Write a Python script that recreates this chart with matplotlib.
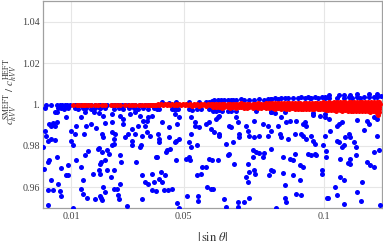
import matplotlib
matplotlib.use("Agg")
import matplotlib.pyplot as plt
from matplotlib.ticker import FixedLocator, FixedFormatter

# ---------------- data ----------------
x_ticks = [0.01, 0.05, 0.1]
x_tick_labels = ["0.01", "0.05", "0.1"]
y_ticks = [0.96, 0.98, 1.0, 1.02, 1.04]
y_tick_labels = ["0.96", "0.98", "1.", "1.02", "1.04"]
x_range = [0.0, 0.1205]
y_range = [0.95, 1.05]

blue_points = [
    # x < 0.021
    (0.0012, 0.9998), (0.0027, 0.9999), (0.0048, 0.9998), (0.0059, 1.0000), (0.0068, 0.9998),
    (0.0077, 0.9999), (0.0087, 0.9998), (0.0095, 1.0000), (0.0113, 0.9998), (0.0122, 0.9999),
    (0.0134, 0.9998), (0.0148, 0.9999), (0.0160, 0.9998), (0.0172, 1.0000), (0.0184, 0.9998),
    (0.0198, 0.9999),
    (0.0006, 0.9982), (0.0053, 0.9982), (0.0065, 0.9984), (0.0075, 0.9980), (0.0089, 0.9982),
    (0.0113, 0.9984), (0.0124, 0.9980), (0.0142, 0.9982), (0.0154, 0.9984), (0.0170, 0.9980),
    (0.0184, 0.9982), (0.0202, 0.9984),
    (0.0042, 0.9962), (0.0051, 0.9966), (0.0148, 0.9962), (0.0182, 0.9966), (0.0198, 0.9960),
    (0.0080, 0.9938), (0.0134, 0.9938), (0.0048, 0.9917),
    (0.0020, 0.9904), (0.0036, 0.9910), (0.0042, 0.9898), (0.0030, 0.9898), (0.0119, 0.9898),
    (0.0154, 0.9898), (0.0172, 0.9906), (0.0190, 0.9885), (0.0006, 0.9874), (0.0012, 0.9850),
    (0.0099, 0.9874), (0.0113, 0.9858), (0.0146, 0.9858), (0.0101, 0.9826), (0.0107, 0.9802),
    (0.0018, 0.9826), (0.0030, 0.9834), (0.0044, 0.9830), (0.0000, 0.9794), (0.0198, 0.9789),
    (0.0160, 0.9773), (0.0151, 0.9757), (0.0020, 0.9730), (0.0016, 0.9722), (0.0048, 0.9746),
    (0.0089, 0.9709), (0.0119, 0.9730), (0.0134, 0.9698), (0.0205, 0.9722), (0.0065, 0.9693),
    (0.0198, 0.9682), (0.0004, 0.9690), (0.0083, 0.9658), (0.0089, 0.9658), (0.0178, 0.9666),
    (0.0142, 0.9634), (0.0027, 0.9634), (0.0053, 0.9618), (0.0016, 0.9586), (0.0036, 0.9586),
    (0.0059, 0.9581), (0.0136, 0.9594), (0.0142, 0.9570), (0.0158, 0.9549), (0.0186, 0.9542),
    (0.0205, 0.9549), (0.0063, 0.9558), (0.0018, 0.9514), (0.0107, 0.9498),
    # 0.020 - 0.041
    (0.0203, 0.9997), (0.0215, 0.9998), (0.0227, 0.9997), (0.0245, 0.9998), (0.0257, 0.9997),
    (0.0268, 0.9998), (0.0280, 0.9997), (0.0290, 0.9998), (0.0302, 0.9997), (0.0316, 0.9998),
    (0.0328, 0.9997), (0.0345, 0.9998), (0.0363, 0.9997), (0.0375, 0.9998), (0.0387, 0.9997),
    (0.0401, 0.9998),
    (0.0203, 0.9981), (0.0221, 0.9983), (0.0251, 0.9980), (0.0271, 0.9982), (0.0283, 0.9980),
    (0.0304, 0.9983), (0.0325, 0.9981), (0.0339, 0.9979), (0.0357, 0.9982), (0.0375, 0.9980),
    (0.0393, 0.9983), (0.0408, 0.9981),
    (0.0215, 0.9946), (0.0247, 0.9954), (0.0274, 0.9946), (0.0283, 0.9930), (0.0310, 0.9954),
    (0.0328, 0.9962), (0.0345, 0.9946), (0.0375, 0.9938), (0.0387, 0.9946), (0.0369, 0.9922),
    (0.0357, 0.9922), (0.0219, 0.9910), (0.0247, 0.9914), (0.0283, 0.9906), (0.0339, 0.9898),
    (0.0363, 0.9898), (0.0316, 0.9882), (0.0302, 0.9858), (0.0328, 0.9858), (0.0369, 0.9866),
    (0.0381, 0.9850), (0.0211, 0.9858), (0.0215, 0.9842), (0.0245, 0.9866), (0.0257, 0.9858),
    (0.0254, 0.9834), (0.0251, 0.9810), (0.0245, 0.9802), (0.0292, 0.9842), (0.0351, 0.9850),
    (0.0316, 0.9826), (0.0318, 0.9802), (0.0349, 0.9802), (0.0345, 0.9794), (0.0197, 0.9786),
    (0.0209, 0.9770), (0.0227, 0.9778), (0.0233, 0.9762), (0.0219, 0.9730), (0.0203, 0.9714),
    (0.0274, 0.9754), (0.0278, 0.9722), (0.0330, 0.9722), (0.0405, 0.9746), (0.0227, 0.9682),
    (0.0251, 0.9682), (0.0203, 0.9666), (0.0242, 0.9650), (0.0351, 0.9658), (0.0387, 0.9666),
    (0.0393, 0.9626), (0.0375, 0.9618), (0.0363, 0.9626), (0.0274, 0.9618), (0.0215, 0.9602),
    (0.0254, 0.9594), (0.0262, 0.9594), (0.0221, 0.9578), (0.0268, 0.9565), (0.0387, 0.9586),
    (0.0401, 0.9584), (0.0203, 0.9558), (0.0211, 0.9538), (0.0271, 0.9542), (0.0351, 0.9542),
    (0.0298, 0.9510),
    # 0.040 - 0.061
    (0.0424, 1.0010), (0.0447, 1.0008), (0.0471, 1.0011), (0.0519, 1.0010), (0.0554, 1.0012),
    (0.0578, 1.0014), (0.0590, 1.0013), (0.0602, 1.0015),
    (0.0406, 0.9978), (0.0412, 0.9980), (0.0459, 0.9976), (0.0465, 0.9979), (0.0474, 0.9977),
    (0.0481, 0.9980), (0.0519, 0.9978), (0.0530, 0.9975), (0.0548, 0.9979), (0.0560, 0.9977),
    (0.0590, 0.9978), (0.0604, 0.9976),
    (0.0424, 0.9917), (0.0447, 0.9890), (0.0477, 0.9906), (0.0483, 0.9938), (0.0469, 0.9954),
    (0.0525, 0.9938), (0.0540, 0.9914), (0.0542, 0.9898), (0.0554, 0.9890), (0.0590, 0.9914),
    (0.0578, 0.9906), (0.0596, 0.9882), (0.0608, 0.9866), (0.0409, 0.9858), (0.0412, 0.9834),
    (0.0412, 0.9818), (0.0447, 0.9842), (0.0471, 0.9826), (0.0469, 0.9818), (0.0483, 0.9834),
    (0.0519, 0.9818), (0.0525, 0.9858), (0.0548, 0.9802), (0.0442, 0.9778), (0.0436, 0.9770),
    (0.0453, 0.9786), (0.0525, 0.9794), (0.0400, 0.9746), (0.0471, 0.9730), (0.0507, 0.9738),
    (0.0519, 0.9746), (0.0521, 0.9730), (0.0602, 0.9730), (0.0590, 0.9738), (0.0578, 0.9698),
    (0.0566, 0.9698), (0.0560, 0.9666), (0.0548, 0.9658), (0.0418, 0.9674), (0.0414, 0.9638),
    (0.0433, 0.9658), (0.0424, 0.9626), (0.0445, 0.9586), (0.0430, 0.9586), (0.0459, 0.9594),
    (0.0584, 0.9602), (0.0596, 0.9594), (0.0513, 0.9558), (0.0552, 0.9558), (0.0552, 0.9533),
    (0.0477, 0.9522), (0.0485, 0.9501),
    # 0.060 - 0.081
    (0.0609, 1.0022), (0.0621, 1.0020), (0.0633, 1.0023), (0.0644, 1.0021), (0.0656, 1.0024),
    (0.0668, 1.0020), (0.0674, 1.0023), (0.0686, 1.0022), (0.0704, 1.0025), (0.0716, 1.0021),
    (0.0733, 1.0024), (0.0751, 1.0022), (0.0769, 1.0026), (0.0787, 1.0023), (0.0799, 1.0027),
    (0.0810, 1.0025),
    (0.0603, 0.9970), (0.0615, 0.9968), (0.0627, 0.9972), (0.0638, 0.9969), (0.0656, 0.9971),
    (0.0668, 0.9967), (0.0686, 0.9970), (0.0757, 0.9968), (0.0810, 0.9966),
    (0.0621, 0.9938), (0.0615, 0.9930), (0.0627, 0.9946), (0.0662, 0.9898), (0.0668, 0.9890),
    (0.0692, 0.9914), (0.0686, 0.9938), (0.0721, 0.9898), (0.0751, 0.9922), (0.0781, 0.9906),
    (0.0799, 0.9898), (0.0624, 0.9858), (0.0627, 0.9850), (0.0727, 0.9874), (0.0733, 0.9850),
    (0.0751, 0.9842), (0.0769, 0.9850), (0.0799, 0.9850), (0.0695, 0.9858), (0.0698, 0.9842),
    (0.0650, 0.9810), (0.0674, 0.9818), (0.0745, 0.9778), (0.0757, 0.9770), (0.0769, 0.9766),
    (0.0787, 0.9766), (0.0656, 0.9754), (0.0662, 0.9762), (0.0621, 0.9730), (0.0680, 0.9714),
    (0.0727, 0.9714), (0.0781, 0.9746), (0.0745, 0.9746), (0.0733, 0.9674), (0.0751, 0.9682),
    (0.0755, 0.9666), (0.0810, 0.9682), (0.0721, 0.9650), (0.0727, 0.9626), (0.0804, 0.9658),
    (0.0605, 0.9594), (0.0644, 0.9542), (0.0692, 0.9530), (0.0715, 0.9530), (0.0731, 0.9546),
    (0.0650, 0.9506), (0.0692, 0.9506),
    # 0.080 - 0.101
    (0.0812, 1.0028), (0.0824, 1.0031), (0.0835, 1.0027), (0.0847, 1.0030), (0.0859, 1.0033),
    (0.0871, 1.0029), (0.0889, 1.0032), (0.0907, 1.0030), (0.0918, 1.0034), (0.0930, 1.0031),
    (0.0942, 1.0035), (0.0948, 1.0029), (0.0954, 1.0033), (0.0966, 1.0036), (0.0978, 1.0032),
    (0.0990, 1.0037), (0.1001, 1.0034), (0.1013, 1.0038),
    (0.0812, 0.9962), (0.0824, 0.9960), (0.0859, 0.9963), (0.0960, 0.9958), (0.1001, 0.9956),
    (0.0847, 0.9942), (0.0865, 0.9914), (0.0877, 0.9922), (0.0901, 0.9922), (0.0930, 0.9914),
    (0.0936, 0.9898), (0.0924, 0.9906), (0.0960, 0.9949), (0.0984, 0.9946), (0.0835, 0.9898),
    (0.0812, 0.9874), (0.0841, 0.9858), (0.0847, 0.9842), (0.0895, 0.9858), (0.0918, 0.9858),
    (0.0871, 0.9834), (0.0924, 0.9850), (0.0936, 0.9834), (0.0954, 0.9850), (0.0960, 0.9826),
    (0.0966, 0.9810), (0.0995, 0.9802), (0.0812, 0.9786), (0.0853, 0.9746), (0.0877, 0.9738),
    (0.0889, 0.9730), (0.0895, 0.9762), (0.0912, 0.9706), (0.0924, 0.9698), (0.0942, 0.9762),
    (0.0954, 0.9757), (0.0966, 0.9762), (0.0972, 0.9754), (0.1007, 0.9746), (0.0818, 0.9678),
    (0.0853, 0.9670), (0.0889, 0.9658), (0.0990, 0.9682), (0.0993, 0.9666), (0.0915, 0.9634),
    (0.0859, 0.9613), (0.0901, 0.9570), (0.0918, 0.9562), (0.0859, 0.9546), (0.0863, 0.9530),
    (0.1013, 0.9549), (0.0829, 0.9501),
    # 0.100 - 0.1205
    (0.1004, 1.0029), (0.1016, 1.0031), (0.1045, 1.0033), (0.1069, 1.0030), (0.1087, 1.0035),
    (0.1099, 1.0032), (0.1117, 1.0036), (0.1128, 1.0033), (0.1140, 1.0037), (0.1158, 1.0034),
    (0.1176, 1.0038), (0.1188, 1.0035), (0.1200, 1.0039),
    (0.1016, 1.0045), (0.1051, 1.0048), (0.1069, 1.0044), (0.1090, 1.0047), (0.1117, 1.0050),
    (0.1158, 1.0049), (0.1188, 1.0052),
    (0.1004, 0.9938), (0.1016, 0.9930), (0.1051, 0.9906), (0.1063, 0.9914), (0.1117, 0.9926),
    (0.1152, 0.9922), (0.1158, 0.9906), (0.1188, 0.9930), (0.1176, 0.9938), (0.1045, 0.9898),
    (0.1004, 0.9850), (0.1019, 0.9874), (0.1075, 0.9842), (0.1087, 0.9858), (0.1093, 0.9842),
    (0.1140, 0.9878), (0.1188, 0.9850), (0.1045, 0.9826), (0.1051, 0.9818), (0.1069, 0.9802),
    (0.1063, 0.9794), (0.1107, 0.9818), (0.1111, 0.9794), (0.1114, 0.9754), (0.1007, 0.9773),
    (0.1176, 0.9770), (0.1194, 0.9778), (0.1057, 0.9738), (0.1093, 0.9738), (0.1090, 0.9714),
    (0.1083, 0.9718), (0.1150, 0.9722), (0.1164, 0.9706), (0.1176, 0.9698), (0.1057, 0.9650),
    (0.1071, 0.9634), (0.1134, 0.9626), (0.1117, 0.9578), (0.1039, 0.9602), (0.1045, 0.9562),
    (0.1010, 0.9549), (0.1069, 0.9517), (0.1131, 0.9533), (0.1199, 0.9514),
]

red_points = [
    # sparse red near 1 for small |sin theta|
    (0.0105, 1.0000), (0.0122, 0.9999), (0.0129, 1.0000), (0.0137, 1.0000), (0.0146, 0.9999),
    (0.0151, 1.0000), (0.0160, 1.0000), (0.0172, 0.9999), (0.0184, 1.0000), (0.0195, 1.0000),
    (0.0208, 0.9999), (0.0222, 1.0000), (0.0240, 1.0000), (0.0252, 0.9999), (0.0262, 1.0000),
    (0.0275, 1.0000), (0.0290, 0.9999), (0.0304, 1.0000), (0.0316, 1.0000), (0.0328, 0.9999),
    (0.0340, 1.0000), (0.0351, 1.0000), (0.0362, 0.9999), (0.0375, 1.0000), (0.0381, 1.0000),
    (0.0386, 0.9999), (0.0392, 1.0000), (0.0397, 1.0000),
    # 0.04 - 0.06
    (0.0402, 0.9998), (0.0408, 1.0001), (0.0414, 0.9997), (0.0421, 1.0001), (0.0427, 0.9998),
    (0.0433, 1.0002), (0.0440, 0.9997), (0.0446, 1.0001), (0.0452, 0.9998), (0.0459, 1.0002),
    (0.0465, 0.9997), (0.0471, 1.0001), (0.0478, 0.9996), (0.0484, 1.0002), (0.0490, 0.9998),
    (0.0497, 1.0001), (0.0503, 0.9996), (0.0509, 1.0002), (0.0516, 0.9997), (0.0522, 1.0001),
    (0.0528, 0.9995), (0.0535, 1.0002), (0.0541, 0.9997), (0.0547, 1.0001), (0.0554, 0.9995),
    (0.0560, 1.0003), (0.0566, 0.9996), (0.0573, 1.0001), (0.0579, 0.9994), (0.0585, 1.0002),
    (0.0592, 0.9996), (0.0598, 1.0003),
    # 0.06 - 0.08
    (0.0605, 1.0003), (0.0605, 0.9995), (0.0605, 0.9988),
    (0.0614, 1.0002), (0.0614, 0.9993), (0.0614, 0.9986),
    (0.0626, 1.0004), (0.0626, 0.9996), (0.0626, 0.9988),
    (0.0635, 1.0003), (0.0635, 0.9994), (0.0635, 0.9985),
    (0.0644, 1.0002), (0.0644, 0.9995), (0.0644, 0.9987),
    (0.0656, 1.0004), (0.0656, 0.9993), (0.0656, 0.9986),
    (0.0665, 1.0003), (0.0665, 0.9996), (0.0665, 0.9985),
    (0.0674, 1.0002), (0.0674, 0.9994), (0.0674, 0.9987),
    (0.0686, 1.0004), (0.0686, 0.9995), (0.0686, 0.9984),
    (0.0695, 1.0003), (0.0695, 0.9993), (0.0695, 0.9986),
    (0.0704, 1.0005), (0.0704, 0.9996), (0.0704, 0.9987),
    (0.0716, 1.0003), (0.0716, 0.9994), (0.0716, 0.9985),
    (0.0725, 1.0004), (0.0725, 0.9995), (0.0725, 0.9983),
    (0.0734, 1.0002), (0.0734, 0.9993), (0.0734, 0.9986),
    (0.0746, 1.0004), (0.0746, 0.9996), (0.0746, 0.9984),
    (0.0755, 1.0003), (0.0755, 0.9994), (0.0755, 0.9987),
    (0.0764, 1.0005), (0.0764, 0.9995), (0.0764, 0.9985),
    (0.0776, 1.0003), (0.0776, 0.9993), (0.0776, 0.9983),
    (0.0785, 1.0004), (0.0785, 0.9996), (0.0785, 0.9986),
    (0.0794, 1.0005), (0.0794, 0.9994), (0.0794, 0.9984),
    # 0.08 - 0.10
    (0.0805, 1.0006), (0.0803, 0.9997), (0.0807, 0.9988), (0.0804, 0.9981),
    (0.0815, 1.0005), (0.0817, 0.9998), (0.0813, 0.9990), (0.0816, 0.9982),
    (0.0826, 1.0007), (0.0824, 0.9996), (0.0827, 0.9989), (0.0825, 0.9980),
    (0.0835, 1.0006), (0.0837, 0.9999), (0.0833, 0.9991), (0.0836, 0.9981),
    (0.0846, 1.0007), (0.0844, 0.9997), (0.0847, 0.9988), (0.0845, 0.9979),
    (0.0855, 1.0006), (0.0857, 0.9998), (0.0853, 0.9990), (0.0856, 0.9982),
    (0.0866, 1.0008), (0.0864, 0.9999), (0.0867, 0.9989), (0.0865, 0.9980),
    (0.0875, 1.0006), (0.0877, 0.9997), (0.0873, 0.9991), (0.0876, 0.9979),
    (0.0886, 1.0007), (0.0884, 0.9998), (0.0887, 0.9988), (0.0885, 0.9981),
    (0.0895, 1.0008), (0.0897, 0.9999), (0.0893, 0.9990), (0.0896, 0.9978),
    (0.0906, 1.0006), (0.0904, 0.9997), (0.0907, 0.9989), (0.0905, 0.9980),
    (0.0915, 1.0008), (0.0917, 0.9998), (0.0913, 0.9991), (0.0916, 0.9979),
    (0.0926, 1.0007), (0.0924, 0.9999), (0.0927, 0.9988), (0.0925, 0.9977),
    (0.0935, 1.0009), (0.0937, 0.9997), (0.0933, 0.9990), (0.0936, 0.9980),
    (0.0946, 1.0007), (0.0944, 0.9998), (0.0947, 0.9989), (0.0945, 0.9978),
    (0.0955, 1.0008), (0.0957, 0.9999), (0.0953, 0.9991), (0.0956, 0.9977),
    (0.0966, 1.0009), (0.0964, 0.9997), (0.0967, 0.9988), (0.0965, 0.9979),
    (0.0975, 1.0008), (0.0977, 0.9999), (0.0973, 0.9990), (0.0976, 0.9976),
    (0.0986, 1.0009), (0.0984, 0.9998), (0.0987, 0.9989), (0.0985, 0.9978),
    (0.0995, 1.0010), (0.0997, 0.9999), (0.0993, 0.9990), (0.0996, 0.9977),
    # 0.10 - 0.12
    (0.1005, 1.0009), (0.1003, 1.0000), (0.1007, 0.9991), (0.1004, 0.9982), (0.1006, 0.9974),
    (0.1015, 1.0010), (0.1017, 1.0001), (0.1013, 0.9992), (0.1016, 0.9983), (0.1014, 0.9973),
    (0.1026, 1.0009), (0.1024, 0.9999), (0.1027, 0.9990), (0.1025, 0.9981), (0.1023, 0.9972),
    (0.1035, 1.0011), (0.1037, 1.0001), (0.1033, 0.9992), (0.1036, 0.9983), (0.1034, 0.9974),
    (0.1046, 1.0010), (0.1044, 1.0000), (0.1047, 0.9991), (0.1045, 0.9981), (0.1043, 0.9971),
    (0.1055, 1.0011), (0.1057, 1.0001), (0.1053, 0.9992), (0.1056, 0.9982), (0.1054, 0.9973),
    (0.1066, 1.0010), (0.1064, 0.9999), (0.1067, 0.9990), (0.1065, 0.9980), (0.1063, 0.9970),
    (0.1075, 1.0012), (0.1077, 1.0002), (0.1073, 0.9992), (0.1076, 0.9982), (0.1074, 0.9972),
    (0.1086, 1.0011), (0.1084, 1.0000), (0.1087, 0.9991), (0.1085, 0.9980), (0.1083, 0.9969),
    (0.1095, 1.0012), (0.1097, 1.0001), (0.1093, 0.9992), (0.1096, 0.9981), (0.1094, 0.9971),
    (0.1106, 1.0011), (0.1104, 1.0000), (0.1107, 0.9990), (0.1105, 0.9979), (0.1103, 0.9968),
    (0.1115, 1.0013), (0.1117, 1.0002), (0.1113, 0.9991), (0.1116, 0.9980), (0.1114, 0.9970),
    (0.1126, 1.0012), (0.1124, 1.0001), (0.1127, 0.9990), (0.1125, 0.9979), (0.1123, 0.9967),
    (0.1135, 1.0013), (0.1137, 1.0002), (0.1133, 0.9991), (0.1136, 0.9980), (0.1134, 0.9969),
    (0.1146, 1.0012), (0.1144, 1.0000), (0.1147, 0.9989), (0.1145, 0.9978), (0.1143, 0.9967),
    (0.1155, 1.0014), (0.1157, 1.0002), (0.1153, 0.9991), (0.1156, 0.9979), (0.1154, 0.9968),
    (0.1166, 1.0013), (0.1164, 1.0001), (0.1167, 0.9990), (0.1165, 0.9978), (0.1163, 0.9966),
    (0.1175, 1.0014), (0.1177, 1.0003), (0.1173, 0.9991), (0.1176, 0.9979), (0.1174, 0.9967),
    (0.1186, 1.0013), (0.1184, 1.0001), (0.1187, 0.9989), (0.1185, 0.9977), (0.1183, 0.9965),
    (0.1195, 1.0014), (0.1197, 1.0002), (0.1193, 0.9990), (0.1196, 0.9978), (0.1194, 0.9966),
    (0.1190, 0.9948),
]

# ---------------- style ----------------
plt.rcParams['mathtext.fontset'] = 'stix'
plt.rcParams['font.family'] = ['Liberation Serif', 'DejaVu Serif']

W, H = 383, 248
fig = plt.figure(figsize=(W / 100, H / 100), dpi=100)
ax = fig.add_axes([43 / W, 1 - 208 / H, (382 - 43) / W, 207 / H])

bx = [p[0] for p in blue_points]
by = [p[1] for p in blue_points]
rx = [p[0] for p in red_points]
ry = [p[1] for p in red_points]

ax.scatter(bx, by, s=13, color=(0, 0, 1), linewidths=0, zorder=3, clip_on=True)
ax.scatter(rx, ry, s=13, color=(1, 0, 0), linewidths=0, zorder=4, clip_on=True)

ax.set_xlim(*x_range)
ax.set_ylim(*y_range)

ax.xaxis.set_major_locator(FixedLocator(x_ticks))
ax.xaxis.set_major_formatter(FixedFormatter(x_tick_labels))
ax.yaxis.set_major_locator(FixedLocator(y_ticks))
ax.yaxis.set_major_formatter(FixedFormatter(y_tick_labels))

ax.grid(True, color='#e6e6e6', linewidth=0.8, zorder=0)
ax.set_axisbelow(True)
ax.tick_params(length=0, labelsize=7.3, labelcolor='#444444', pad=3)
ax.tick_params(axis='y', pad=2)
for sp in ax.spines.values():
    sp.set_color('#a0a0a0')
    sp.set_linewidth(0.9)

ax.set_ylabel(r'$c_{hVV}^{\rm SMEFT}\ /\ c_{hVV}^{\rm HEFT}$', fontsize=8, color='#333333')
ax.yaxis.set_label_coords(-0.068, 0.56)
ax.set_xlabel(r'$|\,\sin\,\theta|$', fontsize=9, color='#333333')
ax.xaxis.set_label_coords(0.5, -0.11)

fig.savefig('out.png', dpi=100)
